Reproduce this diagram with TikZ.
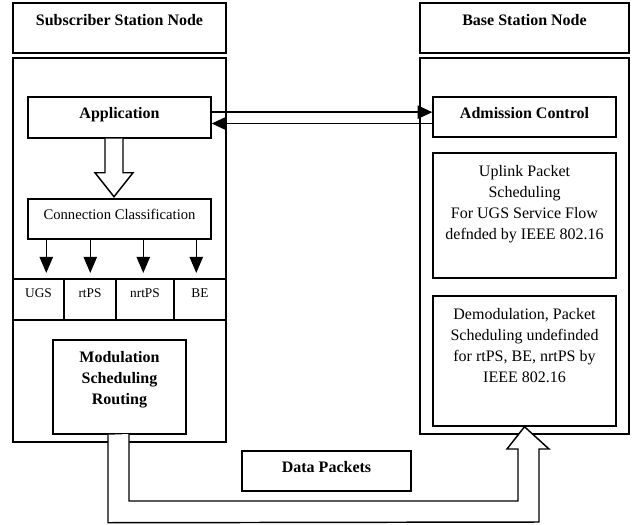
\documentclass[tikz,border=0pt]{standalone}
\usepackage{fontspec}
\setmainfont{Liberation Serif}
\usetikzlibrary{arrows.meta}

\begin{document}
\begin{tikzpicture}[x=0.75pt, y=-0.75pt, line width=1.1pt,
    every node/.style={font=\fontsize{12}{15.75}\selectfont, align=center},
    box/.style 2 args={draw, fill=white, inner sep=0, minimum width=#1*0.75pt, minimum height=#2*0.75pt},
    link/.style={-{Triangle[length=11pt, width=10pt]}},
    down/.style={-{Triangle[length=12pt, width=10pt]}},
    hollow/.style={draw, fill=white, line join=miter}
  ]
  \useasboundingbox (0,0) rectangle (634,524);
  % subscriber station side
  \node[box={213}{50}, label={[yshift=6pt]center:\textbf{Subscriber Station Node}}] (ssHead) at (119.5,28) {};
  \node[box={213}{384}] (ss) at (119.5,250) {};
  \node[box={183}{41}, label={[yshift=2.5pt]center:\textbf{Application}}] (app) at (119.5,117.5) {};
  \node[box={183}{40}, label={[yshift=3.75pt, font=\fontsize{11}{14}\selectfont]center:Connection Classification}] (cls) at (119.5,219) {};
  \foreach \name/\x/\w in {UGS/38.5/51, rtPS/90/52, nrtPS/145/58, BE/200/52}
    \node[box={\w}{41}, label={[yshift=5pt, font=\fontsize{10}{12}\selectfont]center:\name}] (c\name) at (\x,299.5) {};
  \node[box={133}{94}, label={[yshift=5.25pt]center:\textbf{Modulation}\\\textbf{Scheduling}\\\textbf{Routing}}] (mod) at (119.5,387) {};
  % base station side
  \node[box={209}{50}, label={[yshift=6pt]center:\textbf{Base Station Node}}] (bsHead) at (524.5,28) {};
  \node[box={209}{376}] (bs) at (524.5,246) {};
  \node[box={183}{40}, label={[yshift=3pt]center:\textbf{Admission Control}}] (adm) at (524.5,117) {};
  \node[box={183}{125}, label={[yshift=8.6pt]center:{Uplink Packet\\Scheduling\\For UGS Service Flow\\defnded by IEEE 802.16}}] (up) at (524.5,215.5) {};
  \node[box={183}{130}, label={[yshift=11.6pt]center:{Demodulation, Packet\\Scheduling undefinded\\for rtPS, BE, nrtPS by\\IEEE 802.16}}] (demod) at (524.5,361) {};
  \node[box={169}{40}, label={[yshift=3pt]center:\textbf{Data Packets}}] (data) at (326.5,471) {};
  % control links
  \coordinate (u) at ([yshift=4pt]app.east);
  \coordinate (l) at ([yshift=-4.5pt]app.east);
  \draw[link] (u) -- (u -| adm.west);
  \draw[link] (l -| adm.west) -- (l);
  % hollow arrow into classification
  \draw[hollow] (app.south) ++(-14.5,0) -- ++(0,34) -- ++(-10,0) -- ++(19,24) -- ++(19,-24) -- ++(-10,0) -- ++(0,-34);
  % service classes
  \foreach \dx/\c in {19/UGS, 63/rtPS, 116/nrtPS, 169/BE}
    \draw[down] ([xshift=\dx*0.75pt]cls.south west) coordinate (a\c) -- ([yshift=4pt]a\c |- c\c.north);
  % data packet pipe
  \draw[hollow] (mod.south) ++(-11.5,0) -- ++(0,88) -- (539,522) -- (539,449) -- (549,449)
    -- (demod.south) -- (507,449) -- (518,449) -- (518,501) -- (129,501) -- (129,434);
\end{tikzpicture}
\end{document}
